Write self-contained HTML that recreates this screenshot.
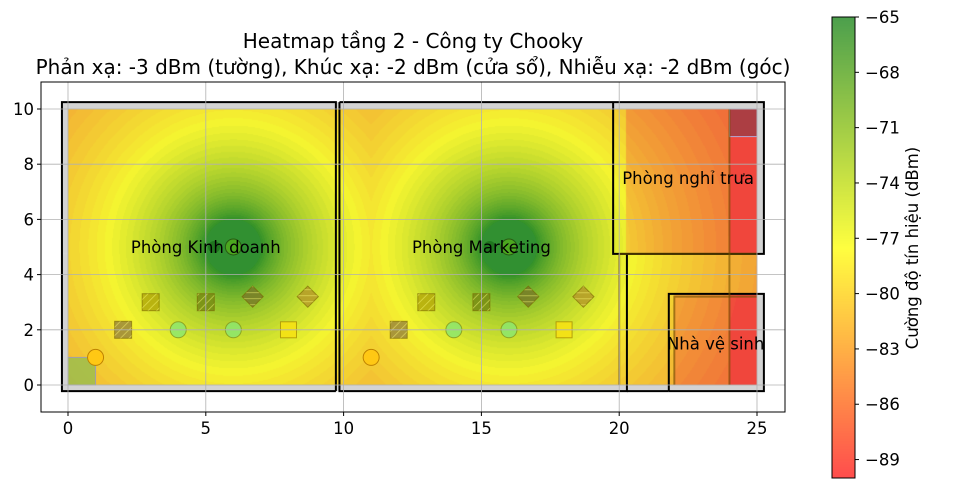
<!DOCTYPE html>
<html><head><meta charset="utf-8">
<style>
body{margin:0;background:#fff;width:967px;height:492px;overflow:hidden;font-family:"DejaVu Sans","Liberation Sans",sans-serif}
#wrap{position:relative;width:967px;height:492px}
canvas{position:absolute;left:0;top:0}
svg{position:absolute;left:0;top:0}
</style></head><body>
<div id="wrap">
<canvas id="hm" width="967" height="492"></canvas>
<svg id="ov" width="967" height="492"></svg>
</div>
<script>
const apX=[6,16];
const apY=[5,5];
const apPower=[-64,-64];
const xTicks=[0,5,10,15,20,25];
const yTicks=[0,2,4,6,8,10];
const cbTicks=[-65,-68,-71,-74,-77,-80,-83,-86,-89];
const vMax=-65, vMin=-90;

const X=x=>68+x*27.56, Y=y=>385-y*27.6;
const NS='http://www.w3.org/2000/svg';
const svg=document.getElementById('ov');
function el(t,a,p){const e=document.createElementNS(NS,t);for(const k in a)e.setAttribute(k,a[k]);(p||svg).appendChild(e);return e;}

const defs=el('defs',{});
const pat=el('pattern',{id:'hatch',width:6,height:6,patternUnits:'userSpaceOnUse',patternTransform:'rotate(45)'},defs);
el('line',{x1:0,y1:0,x2:0,y2:6,stroke:'rgba(255,255,120,0.55)','stroke-width':1.5},pat);

function cmap(v){
  let t=(v-vMin)/(vMax-vMin);t=Math.max(0,Math.min(1,t));
  const R=[240,70,60],Yc=[244,244,48],G=[40,140,40];
  let c;
  if(t<0.5){const s=t/0.5;c=R.map((r,i)=>r+(Yc[i]-r)*s);}
  else{const s=(t-0.5)/0.5;c=Yc.map((r,i)=>r+(G[i]-r)*s);}
  return c;
}
function signal(x,y){
  let best=-200;
  for(let i=0;i<apX.length;i++){
    const d=Math.hypot(x-apX[i],y-apY[i]);
    best=Math.max(best,apPower[i]-20*Math.log10(d+0.2));
  }
  if(x>20.25&&y>4.8)best-=3.5;
  if(x>22&&y<3.3)best-=3;
  if(x>24&&(y>4.8||y<3.3))best-=4;
  return best;
}
const ctx=document.getElementById('hm').getContext('2d');
ctx.fillStyle='#fff';ctx.fillRect(0,0,967,492);
ctx.fillStyle='#d3d3d3';
ctx.fillRect(X(-0.22),Y(10.25),X(25.25)-X(-0.22),Y(4.75)-Y(10.25));
ctx.fillRect(X(-0.22),Y(4.75),X(20.28)-X(-0.22),Y(-0.22)-Y(4.75));
ctx.fillRect(X(21.8),Y(3.3),X(25.25)-X(21.8),Y(-0.22)-Y(3.3));
ctx.fillRect(X(20.28),Y(0),X(21.8)-X(20.28),Y(-0.22)-Y(0));
const x0=Math.round(X(0)),x1=Math.round(X(25)),y0=Math.round(Y(10)),y1=Math.round(Y(0));
const img=ctx.getImageData(x0,y0,x1-x0,y1-y0);
for(let py=0;py<y1-y0;py++)for(let px=0;px<x1-x0;px++){
  const x=(px+0.5)/27.56,y=10-(py+0.5)/27.6;
  let v=signal(x,y);v=Math.round(v*2)/2;
  const c=cmap(v);const k=(py*(x1-x0)+px)*4;
  img.data[k]=c[0];img.data[k+1]=c[1];img.data[k+2]=c[2];img.data[k+3]=255;
}
ctx.putImageData(img,x0,y0);
for(let py=17;py<478;py++){
  const v=vMax-(py-17)/(478-17)*(vMax-vMin);
  const t=(v-vMin)/(vMax-vMin);
  const R=[255,77,77],Yc=[255,255,64],G=[77,160,77];let c;
  if(t<0.5){const s=t/0.5;c=R.map((r,i)=>r+(Yc[i]-r)*s);}else{const s=(t-0.5)/0.5;c=Yc.map((r,i)=>r+(G[i]-r)*s);}
  ctx.fillStyle=`rgb(${c[0]|0},${c[1]|0},${c[2]|0})`;ctx.fillRect(832,py,23,1);
}

const furn=el('g',{});
function sq(cx,cy,s,fill,rot,name){
  const tr=rot?`rotate(45 ${X(cx)} ${Y(cy)})`:'';
  const g=el('rect',{x:X(cx)-s/2,y:Y(cy)-s/2,width:s,height:s,fill:fill,stroke:'rgba(120,100,0,0.6)','stroke-width':1,transform:tr},furn);
  
  const h=el('rect',{x:X(cx)-s/2,y:Y(cy)-s/2,width:s,height:s,fill:'url(#hatch)',transform:tr},furn);
  
}
function ci(cx,cy,r,fill,stroke,name){
  const g=el('circle',{cx:X(cx),cy:Y(cy),r:r,fill:fill,stroke:stroke,'stroke-width':1},furn);
  
}
el('rect',{x:X(0),y:Y(1),width:X(1)-X(0),height:Y(0)-Y(1),fill:'rgba(150,190,80,0.8)',stroke:'rgba(150,150,200,0.8)',},furn);
[0,10].forEach(o=>{
  sq(o+2,2,17,'rgba(150,130,60,0.8)',false,'cabinet');
  sq(o+3,3,17,'rgba(180,170,10,0.85)',false,'desk');
  sq(o+5,3,17,'rgba(120,140,20,0.85)',false,'desk');
  sq(o+6.7,3.2,15,'rgba(120,120,40,0.8)',true,'chair');
  sq(o+8.7,3.2,15,'rgba(180,150,40,0.8)',true,'chair');
  ci(o+4,2,8,'rgba(140,230,110,0.85)','rgba(130,150,30,0.8)','stool');
  ci(o+6,2,8,'rgba(140,230,110,0.85)','rgba(130,150,30,0.8)','stool');
  const p=el('rect',{x:X(o+8)-8,y:Y(2)-8,width:16,height:16,fill:'rgba(245,225,20,0.9)',stroke:'rgba(160,130,0,0.7)'},furn);
  
  ci(o+1,1,8,'rgba(255,200,20,1)','rgba(190,130,0,1)','bin');
  ci(o+6,5,28,'rgba(50,145,50,0.85)','none','ap-coverage');
  ci(o+5.3,5,6,'rgba(20,100,20,0.6)','none','ap-antenna');
  ci(o+6,5,8,'rgba(80,170,30,0.9)','rgba(40,90,20,1)','access-point');
});
el('rect',{x:X(24),y:Y(10),width:X(25)-X(24),height:Y(9)-Y(10),fill:'rgba(150,60,70,0.75)',stroke:'rgba(180,180,230,0.9)',},furn);

const walls=el('g',{fill:'none',stroke:'#000','stroke-width':2,});
el('polyline',{points:`${X(9.72)},${Y(-0.22)} ${X(-0.22)},${Y(-0.22)} ${X(-0.22)},${Y(10.25)} ${X(9.72)},${Y(10.25)} ${X(9.72)},${Y(-0.22)}`},walls);
el('polyline',{points:`${X(9.85)},${Y(10.25)} ${X(25.25)},${Y(10.25)} ${X(25.25)},${Y(4.75)} ${X(19.78)},${Y(4.75)} ${X(19.78)},${Y(10.25)}`},walls);
el('polyline',{points:`${X(9.85)},${Y(10.25)} ${X(9.85)},${Y(-0.22)} ${X(20.28)},${Y(-0.22)} ${X(20.28)},${Y(4.75)}`},walls);
el('line',{x1:X(20.28),y1:Y(-0.22),x2:X(21.8),y2:Y(-0.22)},walls);
el('polyline',{points:`${X(21.8)},${Y(-0.22)} ${X(21.8)},${Y(3.3)} ${X(25.25)},${Y(3.3)} ${X(25.25)},${Y(-0.22)} ${X(21.8)},${Y(-0.22)}`},walls);
const inner=el('g',{fill:'none',stroke:'rgba(110,80,0,0.6)','stroke-width':2,});
el('line',{x1:X(20),y1:Y(4.75),x2:X(20),y2:Y(0)},inner);
el('line',{x1:X(20),y1:Y(4.75),x2:X(25),y2:Y(4.75)},inner);
el('polyline',{points:`${X(22)},${Y(0)} ${X(22)},${Y(3.2)} ${X(25)},${Y(3.2)}`},inner);
el('line',{x1:X(24),y1:Y(10),x2:X(24),y2:Y(0)},inner);

const grid=el('g',{stroke:'#b0b0b0','stroke-width':0.8,});
xTicks.forEach(t=>el('line',{x1:X(t),y1:82,x2:X(t),y2:412},grid));
yTicks.forEach(t=>el('line',{x1:41,y1:Y(t),x2:785,y2:Y(t)},grid));

function txt(x,y,s,attrs,name){const t=el('text',Object.assign({x:x,y:y,'font-size':16,fill:'#000'},attrs||{}));t.textContent=s;return t;}
txt(X(5),Y(5)+6,'Phòng Kinh doanh',{'text-anchor':'middle','font-size':16.5},'room-label-sales');
txt(X(15),Y(5)+6,'Phòng Marketing',{'text-anchor':'middle','font-size':16.5},'room-label-marketing');
txt(X(22.5),Y(7.5)+6,'Phòng nghỉ trưa',{'text-anchor':'middle','font-size':16.5},'room-label-break');
txt(X(23.5),Y(1.5)+6,'Nhà vệ sinh',{'text-anchor':'middle','font-size':16.5},'room-label-restroom');

el('rect',{x:41,y:82,width:744,height:330,fill:'none',stroke:'#000','stroke-width':1,});
const ax=el('g',{});
xTicks.forEach(t=>{el('line',{x1:X(t),y1:412,x2:X(t),y2:416,stroke:'#000'},ax);txt(X(t),434,String(t),{'text-anchor':'middle','font-size':16.5},'x-tick-label');});
yTicks.forEach(t=>{el('line',{x1:37,y1:Y(t),x2:41,y2:Y(t),stroke:'#000'},ax);txt(34,Y(t)+6,String(t),{'text-anchor':'end','font-size':16.5},'y-tick-label');});
txt(413,48,'Heatmap tầng 2 - Công ty Chooky',{'text-anchor':'middle','font-size':20},'chart-title');
txt(413,74,'Phản xạ: -3 dBm (tường), Khúc xạ: -2 dBm (cửa sổ), Nhiễu xạ: -2 dBm (góc)',{'text-anchor':'middle','font-size':20},'chart-subtitle');

el('rect',{x:832,y:17,width:23,height:461,fill:'none',stroke:'#000',});
cbTicks.forEach(t=>{const y=17+(vMax-t)/(vMax-vMin)*461;el('line',{x1:855,y1:y,x2:859,y2:y,stroke:'#000'},ax);txt(865,y+6,'\u2212'+Math.abs(t),{'font-size':16.5},'colorbar-tick-label');});
txt(0,0,'Cường độ tín hiệu (dBm)',{'text-anchor':'middle',transform:'translate(918,248) rotate(-90)','font-size':16.5},'colorbar-title');
</script>
</body></html>
